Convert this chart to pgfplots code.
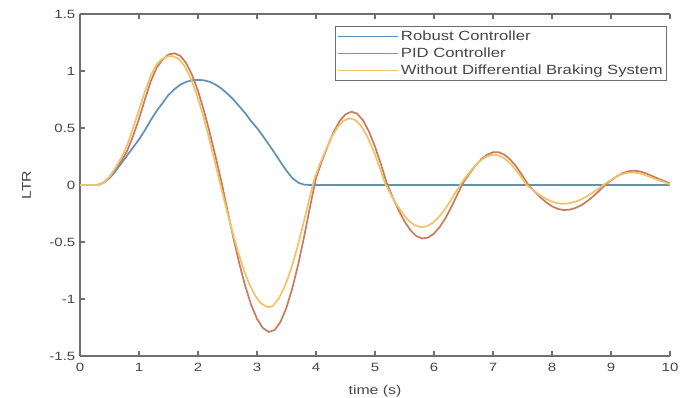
\documentclass[border=0pt]{standalone}
\usepackage{fontspec}
\setmainfont{Liberation Sans}[FakeStretch=1.25]
\usepackage{pgfplots}
\pgfplotsset{compat=1.18}
\definecolor{cblue}{RGB}{95,145,185}
\definecolor{corange}{RGB}{200,125,95}
\definecolor{cyellow}{RGB}{240,195,105}
\definecolor{axgray}{RGB}{110,110,110}
\definecolor{txtgray}{RGB}{70,70,70}
\begin{document}
\begin{tikzpicture}
\begin{axis}[
  scale only axis, width=442.5pt, height=256.5pt,
  xmin=0, xmax=10, ymin=-1.5, ymax=1.5,
  xtick={0,1,...,10}, ytick={-1.5,-1,-0.5,0,0.5,1,1.5},
  axis y line*=left,
  tick align=inside, xtick pos=both,
  major tick length=3.5pt,
  axis line style={axgray, line width=0.9pt, -},
  tick style={axgray, line width=0.8pt},
  /pgf/number format/assume math mode=true,
  ticklabel style={font=\fontsize{9}{11}\selectfont, text=txtgray},
  xticklabel style={yshift=-2pt},
  xlabel={time (s)}, ylabel={LTR},
  label style={font=\fontsize{9.5}{11}\selectfont, text=txtgray},
  xlabel style={yshift=-3pt},
  ylabel style={yshift=7pt},
  legend cell align=left,
  legend style={at={(rel axis cs:1,1)}, anchor=north east, xshift=-2pt, yshift=-9pt,
    draw=axgray, line width=0.8pt, font=\fontsize{10}{13}\selectfont, text=txtgray,
    inner xsep=1pt, inner ysep=1pt, row sep=0pt},
  legend image code/.code={\draw[#1, line width=1pt] (0pt,0pt) -- (45pt,0pt);},
  every axis plot/.append style={line width=1.3pt},
]
\coordinate (bl) at (rel axis cs:0,0);
\coordinate (tr) at (rel axis cs:1,1);
\addplot[cblue] coordinates {
(0,0) (0.3,0) (0.4,0.02) (0.5,0.06) (0.6,0.12) (0.7,0.19) (0.8,0.26) (0.9,0.33)
(1.0,0.40) (1.1,0.48) (1.2,0.57) (1.3,0.65) (1.4,0.72) (1.5,0.79) (1.6,0.84)
(1.7,0.88) (1.8,0.905) (1.9,0.918) (2.0,0.922) (2.1,0.918) (2.2,0.905) (2.3,0.88)
(2.4,0.845) (2.5,0.80) (2.6,0.75) (2.7,0.69) (2.8,0.63) (2.9,0.56) (3.0,0.50)
(3.1,0.43) (3.2,0.355) (3.3,0.28) (3.4,0.20) (3.5,0.125) (3.6,0.06) (3.7,0.02)
(3.8,0.003) (3.9,0) (10,0)
};
\addlegendentry{Robust Controller}
\addplot[corange] coordinates {
(0,0) (0.3,0) (0.4,0.02) (0.5,0.07) (0.6,0.14) (0.7,0.21) (0.8,0.30) (0.9,0.43)
(1.0,0.58) (1.1,0.75) (1.2,0.91) (1.3,1.03) (1.4,1.10) (1.5,1.145) (1.6,1.155)
(1.7,1.133) (1.8,1.069) (1.9,0.965) (2.0,0.825) (2.1,0.653) (2.2,0.457) (2.3,0.244)
(2.4,0.022) (2.5,-0.224) (2.6,-0.465) (2.7,-0.688) (2.8,-0.885) (2.9,-1.050)
(3.0,-1.174) (3.1,-1.255) (3.2,-1.289) (3.3,-1.272) (3.4,-1.199) (3.5,-1.075)
(3.6,-0.903) (3.7,-0.692) (3.8,-0.451) (3.9,-0.188) (4.0,0.06) (4.1,0.21)
(4.2,0.344) (4.3,0.466) (4.4,0.560) (4.5,0.620) (4.6,0.643) (4.7,0.625) (4.8,0.565)
(4.9,0.466) (5.0,0.336) (5.1,0.183) (5.2,0.017) (5.3,-0.108) (5.4,-0.221)
(5.5,-0.319) (5.6,-0.396) (5.7,-0.448) (5.8,-0.469) (5.9,-0.461) (6.0,-0.426)
(6.1,-0.366) (6.2,-0.286) (6.3,-0.187) (6.4,-0.079) (6.5,0.024) (6.6,0.100)
(6.7,0.169) (6.8,0.226) (6.9,0.266) (7.0,0.287) (7.1,0.287) (7.2,0.264) (7.3,0.219)
(7.4,0.157) (7.5,0.082) (7.6,0) (7.7,-0.055) (7.8,-0.107) (7.9,-0.152) (8.0,-0.187)
(8.1,-0.210) (8.2,-0.220) (8.3,-0.216) (8.4,-0.201) (8.5,-0.176) (8.6,-0.141)
(8.7,-0.098) (8.8,-0.050) (8.9,0) (9.0,0.040) (9.1,0.076) (9.2,0.104) (9.3,0.121)
(9.4,0.125) (9.5,0.118) (9.6,0.100) (9.7,0.078) (9.8,0.055) (9.9,0.035) (10.0,0.012)
};
\addlegendentry{PID Controller}
\addplot[cyellow] coordinates {
(0,0) (0.3,0) (0.4,0.02) (0.5,0.07) (0.6,0.15) (0.7,0.24) (0.8,0.35) (0.9,0.5)
(1.0,0.66) (1.1,0.82) (1.2,0.96) (1.3,1.06) (1.4,1.11) (1.5,1.13) (1.57,1.13)
(1.67,1.108) (1.77,1.045) (1.87,0.944) (1.97,0.807) (2.07,0.639) (2.17,0.447)
(2.27,0.239) (2.37,0.022) (2.47,-0.186) (2.57,-0.385) (2.67,-0.570) (2.77,-0.734)
(2.87,-0.870) (2.97,-0.973) (3.07,-1.040) (3.17,-1.069) (3.22,-1.07) (3.27,-1.060)
(3.37,-0.994) (3.47,-0.891) (3.57,-0.749) (3.67,-0.574) (3.77,-0.374) (3.87,-0.156)
(3.97,0.05) (4.07,0.19) (4.17,0.313) (4.27,0.424) (4.37,0.510) (4.47,0.564)
(4.57,0.585) (4.67,0.569) (4.77,0.514) (4.87,0.424) (4.97,0.306) (5.07,0.167)
(5.17,0.015) (5.27,-0.085) (5.37,-0.174) (5.47,-0.251) (5.57,-0.312) (5.67,-0.353)
(5.77,-0.369) (5.87,-0.363) (5.97,-0.335) (6.07,-0.288) (6.17,-0.225) (6.27,-0.147)
(6.37,-0.062) (6.47,0.022) (6.57,0.091) (6.67,0.154) (6.77,0.207) (6.87,0.243)
(6.97,0.262) (7.02,0.265) (7.07,0.262) (7.17,0.241) (7.27,0.200) (7.37,0.143)
(7.47,0.075) (7.57,0) (7.67,-0.041) (7.77,-0.080) (7.87,-0.114) (7.97,-0.140)
(8.07,-0.158) (8.17,-0.165) (8.27,-0.162) (8.37,-0.151) (8.47,-0.132) (8.57,-0.106)
(8.67,-0.074) (8.77,-0.038) (8.87,0) (8.97,0.035) (9.07,0.067) (9.17,0.092)
(9.27,0.106) (9.37,0.11) (9.47,0.104) (9.57,0.088) (9.67,0.069) (9.77,0.048)
(9.87,0.031) (9.97,0.011) (10,0.005)
};
\addlegendentry{Without Differential Braking System}
\end{axis}
\pgfresetboundingbox
\path[use as bounding box] ([shift={(-60pt,-31.5pt)}]bl) rectangle ([shift={(7.5pt,10.5pt)}]tr);
\end{tikzpicture}
\end{document}
